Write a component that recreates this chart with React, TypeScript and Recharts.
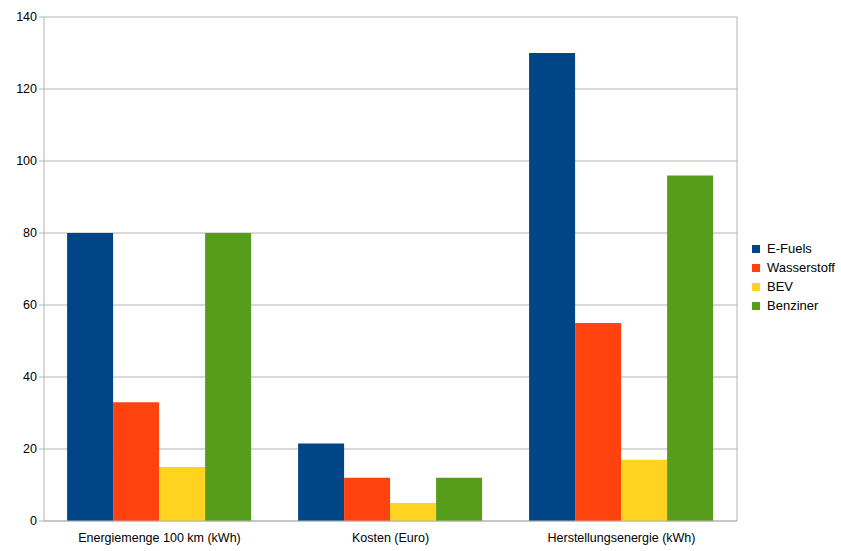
import { BarChart, Bar, XAxis, YAxis, CartesianGrid, Legend } from 'recharts'

const categories = ['Energiemenge 100 km (kWh)', 'Kosten (Euro)', 'Herstellungsenergie (kWh)']
const eFuels = [80, 21.5, 130]
const wasserstoff = [33, 12, 55]
const bev = [15, 5, 17]
const benziner = [80, 12, 96]
const yTicks = [0, 20, 40, 60, 80, 100, 120, 140]

const series = [
    { key: 'E-Fuels', color: '#004586' },
    { key: 'Wasserstoff', color: '#ff420e' },
    { key: 'BEV', color: '#ffd320' },
    { key: 'Benziner', color: '#579d1c' },
]

const data = categories.map((name, i) => ({
    name,
    'E-Fuels': eFuels[i],
    Wasserstoff: wasserstoff[i],
    BEV: bev[i],
    Benziner: benziner[i],
}))

const font = '"Liberation Sans", Arial, sans-serif'

function LegendBox() {
    return (
        <div style={{ fontFamily: font, fontSize: 13, color: '#000' }}>
            {series.map(s => (
                <div key={s.key} style={{ display: 'flex', alignItems: 'center', height: 19 }}>
                    <span style={{ width: 8, height: 8, background: s.color, marginRight: 7, display: 'inline-block' }} />
                    {s.key}
                </div>
            ))}
        </div>
    )
}

export default function App() {
    return (
        <div style={{ position: 'absolute', left: 0, top: 0, background: '#fff' }}>
            <BarChart
                width={841}
                height={551}
                data={data}
                margin={{ top: 17, right: 14, bottom: 0, left: 0 }}
                barCategoryGap="10%"
                barGap={0}
            >
                <CartesianGrid
                    stroke="#b3b3b3"
                    verticalCoordinatesGenerator={({ offset }: any) => [offset.left + offset.width]}
                />
                <XAxis
                    dataKey="name"
                    height={30}
                    stroke="#b3b3b3"
                    tickLine={false}
                    tick={{ fill: '#000', fontSize: 12.5, fontFamily: font }}
                    tickMargin={6}
                />
                <YAxis
                    domain={[0, 140]}
                    ticks={yTicks}
                    width={44}
                    stroke="#b3b3b3"
                    tickSize={5}
                    tick={{ fill: '#000', fontSize: 12.5, fontFamily: font }}
                    tickMargin={2}
                />
                <Legend
                    layout="vertical"
                    align="right"
                    verticalAlign="top"
                    content={<LegendBox />}
                    wrapperStyle={{ left: 752, top: 239, width: 90 }}
                />
                {series.map(s => (
                    <Bar key={s.key} dataKey={s.key} fill={s.color} isAnimationActive={false} />
                ))}
            </BarChart>
        </div>
    )
}
